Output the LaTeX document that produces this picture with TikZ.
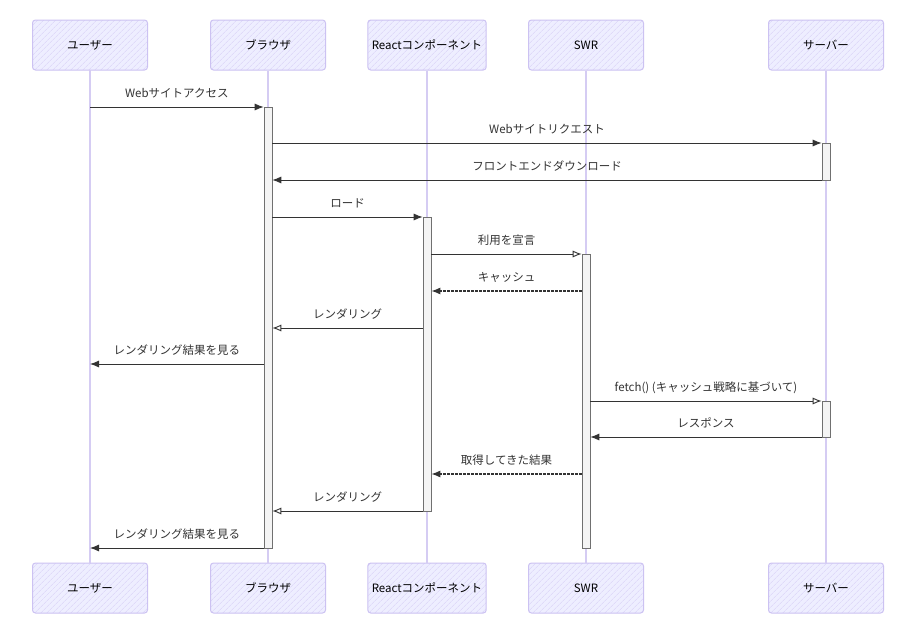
\documentclass[tikz,border=0pt]{standalone}
\usepackage{fontspec}
\setmainfont{Noto Sans CJK JP}
\usetikzlibrary{arrows.meta,patterns.meta}
\definecolor{boxfill}{HTML}{EEEEFF}
\definecolor{boxline}{HTML}{CCC2F2}
\definecolor{hatch}{HTML}{D8D0F6}
\definecolor{lifecol}{HTML}{D5CCF3}
\definecolor{actfill}{HTML}{F4F4F4}
\definecolor{actline}{HTML}{707070}
\definecolor{msgcol}{HTML}{333333}
\begin{document}
\begin{tikzpicture}[x=1pt,y=-1pt]
% Styles
\tikzstyle{actor}=[draw=boxline,line width=1pt,rounded corners=3pt,preaction={fill=boxfill},pattern={Lines[angle=45,distance=4pt,line width=0.5pt]},pattern color=hatch,minimum width=115pt,minimum height=50pt,inner sep=4pt,font=\fontsize{11.5}{13}\selectfont]
\tikzstyle{lifeline}=[draw=lifecol,line width=1.2pt]
\tikzstyle{act}=[draw=actline,fill=actfill,line width=0.6pt,minimum width=8pt,inner sep=0pt]
\tikzstyle{msg}=[draw=msgcol,line width=0.9pt,-{Latex[length=9pt,width=7pt]}]
\tikzstyle{msgo}=[draw=msgcol,line width=0.9pt,-{Latex[open,length=9pt,width=7pt]}]
\tikzstyle{reply}=[draw=msgcol,line width=1.3pt,dash pattern=on 2.5pt off 1.5pt,-{Latex[length=9pt,width=7pt]}]
\tikzstyle{lbl}=[midway,anchor=base,yshift=10pt,text=msgcol,font=\fontsize{11.5}{13}\selectfont]

\fill[white] (0,0) rectangle (914,637);
\useasboundingbox (0,0) rectangle (914,637);

% draw the participants
\foreach \n/\x/\t in {user/90/ユーザー,browser/268/ブラウザ,react/427/Reactコンポーネント,swr/586/SWR,server/826/サーバー} {
\node[actor] (\n-top) at (\x,45) {\t};
\node[actor] (\n-bot) at (\x,588) {\t};
}

% lifelines
\foreach \n in {user,browser,react,swr,server} {
\draw[lifeline] (\n-top) -- (\n-bot);
}

% activations
\node[act,minimum height=441pt] (actB) at (268,327.5) {};
\node[act,minimum height=37pt] (actS1) at (826,161.5) {};
\node[act,minimum height=294pt] (actR) at (427,364) {};
\node[act,minimum height=294pt] (actW) at (586,401) {};
\node[act,minimum height=36pt] (actS2) at (826,419) {};

% message rows
\foreach \i/\y in {1/107,2/143,3/180,4/217,5/254,6/291,7/328,8/364,9/401,10/437,11/474,12/511,13/548} {
\coordinate (r\i) at (0,\y);
}

%messages
\draw[msg] (user-top |- r1) -- node[lbl]{Webサイトアクセス} (actB.west |- r1);
\draw[msg] (actB.east |- r2) -- node[lbl]{Webサイトリクエスト} (actS1.west |- r2);
\draw[msg] (actS1.west |- r3) -- node[lbl]{フロントエンドダウンロード} (actB.east |- r3);
\draw[msg] (actB.east |- r4) -- node[lbl]{ロード} (actR.west |- r4);
\draw[msgo] (actR.east |- r5) -- node[lbl]{利用を宣言} (actW.west |- r5);
\draw[reply] (actW.west |- r6) -- node[lbl]{キャッシュ} (actR.east |- r6);
\draw[msgo] (actR.west |- r7) -- node[lbl]{レンダリング} (actB.east |- r7);
\draw[msg] (actB.west |- r8) -- node[lbl]{レンダリング結果を見る} (user-top |- r8);
\draw[msgo] (actW.east |- r9) -- node[lbl]{fetch() (キャッシュ戦略に基づいて)} (actS2.west |- r9);
\draw[msg] (actS2.west |- r10) -- node[lbl]{レスポンス} (actW.east |- r10);
\draw[reply] (actW.west |- r11) -- node[lbl]{取得してきた結果} (actR.east |- r11);
\draw[msgo] (actR.west |- r12) -- node[lbl]{レンダリング} (actB.east |- r12);
\draw[msg] (actB.west |- r13) -- node[lbl]{レンダリング結果を見る} (user-top |- r13);

\end{tikzpicture}
\end{document}
